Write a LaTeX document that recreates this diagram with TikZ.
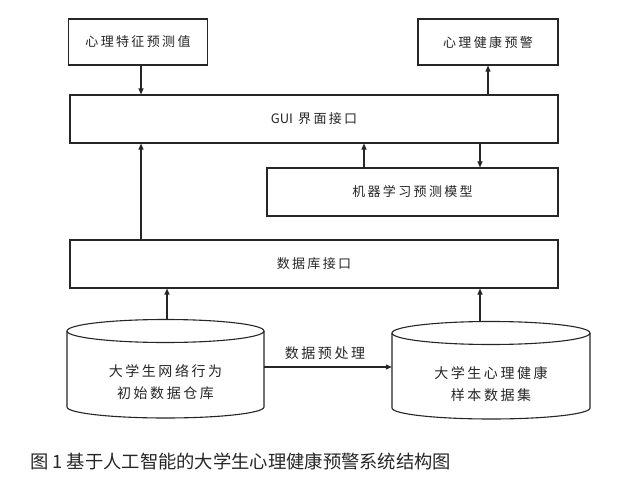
\documentclass[tikz,border=0pt]{standalone}
\usepackage{fontspec}
\newfontfamily\cjk{Noto Sans CJK SC}
\newfontfamily\cjks[LetterSpace=18]{Noto Sans CJK SC}
\usetikzlibrary{arrows.meta,calc}
\tikzset{
  line/.style={draw=black!85, line width=1.1pt},
  box/.style={line, rectangle, inner sep=0pt, text=black!85,
    font=\cjks\fontsize{13}{15}\selectfont},
  cyltext/.style={inner sep=0pt, align=center, text=black!85,
    font=\cjks\fontsize{14}{22}\selectfont},
  arr/.style={line, -{Triangle[length=6pt,width=5pt]}},
}
\begin{document}
\begin{tikzpicture}[x=1pt,y=-1pt]
\useasboundingbox[fill=white] (0,0) rectangle (637,478);
% boxes
\node[box, minimum width=139, minimum height=46] (n1) at (138,42) {心理特征预测值};
\node[box, minimum width=140, minimum height=46] (n2) at (488,42) {心理健康预警};
\node[box, minimum width=488, minimum height=48] (gui) at (314,119) {{\cjk GUI} 界面接口};
\node[box, minimum width=291, minimum height=48] (ml) at (412.5,192) {机器学习预测模型};
\node[box, minimum width=488, minimum height=48] (db) at (314,264) {数据库接口};
% cylinders (outline drawn directly, invisible nodes for anchors)
\node[inner sep=0pt, minimum width=197, minimum height=98.5] (c1) at (165.5,368.75) {};
\node[inner sep=0pt, minimum width=198, minimum height=97] (c2) at (491,370) {};
\draw[line, fill=white] (165.5,331) ellipse [x radius=98.5, y radius=11.5];
\draw[line] (67,331) -- (67,407) arc[start angle=180, end angle=0, x radius=98.5, y radius=11] -- (264,331);
\draw[line, fill=white] (491,333) ellipse [x radius=99, y radius=11.5];
\draw[line] (392,333) -- (392,408) arc[start angle=180, end angle=0, x radius=99, y radius=11] -- (590,333);
\node[cyltext] (c1t) at (165.5,382) {大学生网络行为\\初始数据仓库};
\node[cyltext] (c2t) at (491,384) {大学生心理健康\\样本数据集};
% helper coordinates
\coordinate (xa) at (141,0);
\coordinate (xm) at (364,0);
\coordinate (xr) at (480,0);
\coordinate (xc) at (167,0);
\coordinate (ya) at (0,367);
% connectors
\draw[arr] (n1.south -| xa) -- (gui.north -| xa);
\draw[arr] (gui.north -| n2) -- (n2.south);
\draw[arr] (db.north -| xa) -- (gui.south -| xa);
\draw[arr] (ml.north -| xm) -- (gui.south -| xm);
\draw[arr] (gui.south -| xr) -- (ml.north -| xr);
\draw[arr] (c1.north -| xc) -- (db.south -| xc);
\draw[arr] (c2.north -| xr) -- (db.south -| xr);
\draw[arr] (c1.east |- ya) -- (c2.west |- ya);
\node[text=black!85, font=\cjks\fontsize{14}{16}\selectfont] (pre) at (325,353) {数据预处理};
% caption
\node[anchor=west, inner sep=0pt, text=black!85, font=\cjk\fontsize{18.3}{20}\selectfont] (cap) at (30,461) {图 1 基于人工智能的大学生心理健康预警系统结构图};
\end{tikzpicture}
\end{document}
